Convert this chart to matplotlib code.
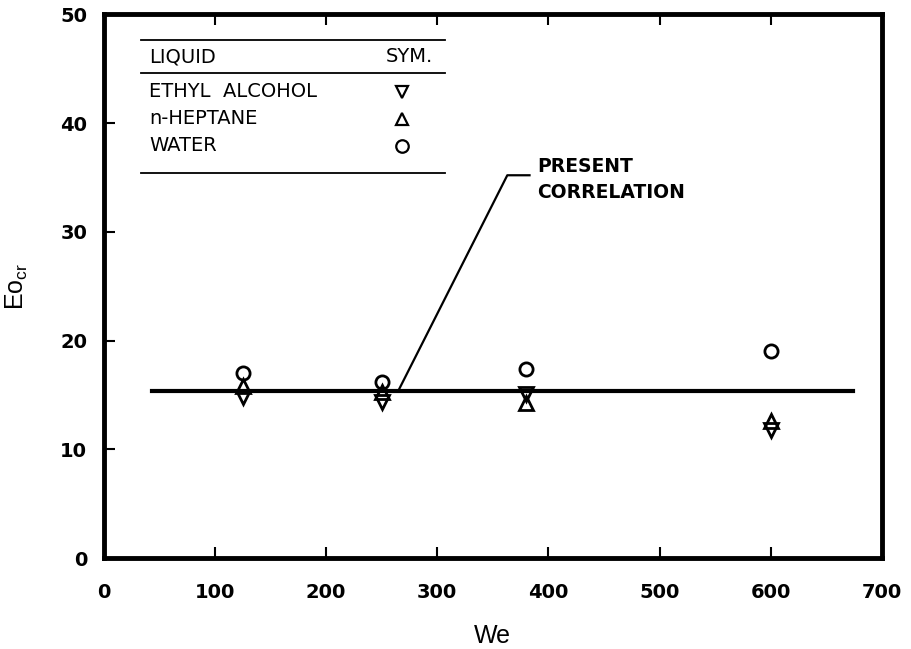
import matplotlib.pyplot as plt

# data
we_ethyl = [125, 250, 380, 600]
eo_ethyl = [14.8, 14.4, 15.1, 11.8]
we_heptane = [125, 250, 380, 600]
eo_heptane = [15.8, 15.3, 14.3, 12.6]
we_water = [125, 250, 380, 600]
eo_water = [17.0, 16.2, 17.4, 19.0]

corr_we = [43, 674]
corr_eo = [15.4, 15.4]

xticks = [0, 100, 200, 300, 400, 500, 600, 700]
yticks = [0, 10, 20, 30, 40, 50]

fig = plt.figure(figsize=(9.11, 6.49), dpi=100)
ax = fig.add_axes([0.114, 0.140, 0.854, 0.838])

mk = dict(linestyle='none', markerfacecolor='none', markeredgecolor='black',
          markeredgewidth=2.0, clip_on=False)
ax.plot(we_ethyl, eo_ethyl, marker='v', markersize=10, **mk)
ax.plot(we_heptane, eo_heptane, marker='^', markersize=10, **mk)
ax.plot(we_water, eo_water, marker='o', markersize=9.5, **mk)

ax.plot(corr_we, corr_eo, color='black', linewidth=3.0, clip_on=False)

# leader line to label
ax.plot([265, 363, 383], [15.4, 35.2, 35.2], color='black', linewidth=1.6)
ax.text(390, 34.8, 'PRESENT\nCORRELATION', fontsize=13.5, fontweight='bold',
        va='center', ha='left', linespacing=1.45)

# legend table
ax.plot([33, 307], [47.6, 47.6], color='black', linewidth=1.3)
ax.plot([33, 307], [44.6, 44.6], color='black', linewidth=1.3)
ax.plot([33, 307], [35.4, 35.4], color='black', linewidth=1.3)
ax.text(41, 46.1, 'LIQUID', fontsize=14, va='center', ha='left')
ax.text(296, 46.1, 'SYM.', fontsize=14, va='center', ha='right')
names = ['ETHYL  ALCOHOL', 'n-HEPTANE', 'WATER']
rows = [42.9, 40.4, 37.9]
syms = ['v', '^', 'o']
for name, yy, s in zip(names, rows, syms):
    ax.text(41, yy, name, fontsize=14, va='center', ha='left')
    ax.plot([268], [yy], marker=s, linestyle='none', markerfacecolor='none',
            markeredgecolor='black', markeredgewidth=1.6, markersize=9)

ax.set_xlim(0, 700)
ax.set_ylim(0, 50)
ax.set_xticks(xticks)
ax.set_yticks(yticks)
ax.tick_params(direction='in', length=8, width=1.5, top=True, right=False,
               labelsize=14)
ax.tick_params(axis='x', pad=18)
ax.tick_params(axis='y', pad=12)
for lab in ax.get_xticklabels() + ax.get_yticklabels():
    lab.set_fontweight('bold')
for sp in ax.spines.values():
    sp.set_linewidth(3.5)

ax.set_xlabel('We', fontsize=18, family='Liberation Sans', labelpad=16)
ax.set_ylabel(r'Eo$_{\mathregular{cr}}$', fontsize=18, family='Liberation Sans', labelpad=22)

fig.savefig('out.png', dpi=100)
